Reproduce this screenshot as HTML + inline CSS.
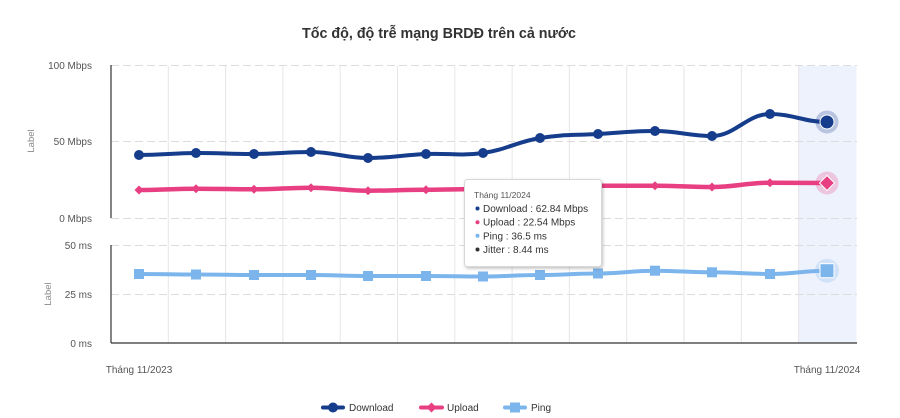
<!DOCTYPE html>
<html>
<head>
<meta charset="utf-8">
<style>
  html,body{margin:0;padding:0;background:#fff;}
  svg{display:block;font-family:"Liberation Sans","DejaVu Sans",sans-serif;}
</style>
</head>
<body>
<svg width="900" height="418" viewBox="0 0 900 418" xmlns="http://www.w3.org/2000/svg">
  <defs>
    <filter id="sh" x="-10%" y="-10%" width="130%" height="130%">
      <feDropShadow dx="1" dy="1.5" stdDeviation="1.5" flood-color="#000" flood-opacity="0.25"/>
    </filter>
  </defs>
  <rect width="900" height="418" fill="#fff"/>

  <!-- Title -->
  <text x="439" y="38" text-anchor="middle" font-size="15" font-weight="bold" fill="#333" textLength="274" lengthAdjust="spacingAndGlyphs">Tốc độ, độ trễ mạng BRDĐ trên cả nước</text>

  <!-- highlight band -->
  <rect x="798.5" y="66" width="58" height="277" fill="#eef2fd"/>

  <!-- vertical grid -->
  <g stroke="#e6e6e6" stroke-width="1">
    <line x1="168.3" y1="66" x2="168.3" y2="343"/>
    <line x1="225.6" y1="66" x2="225.6" y2="343"/>
    <line x1="282.9" y1="66" x2="282.9" y2="343"/>
    <line x1="340.2" y1="66" x2="340.2" y2="343"/>
    <line x1="397.5" y1="66" x2="397.5" y2="343"/>
    <line x1="454.8" y1="66" x2="454.8" y2="343"/>
    <line x1="512.1" y1="66" x2="512.1" y2="343"/>
    <line x1="569.4" y1="66" x2="569.4" y2="343"/>
    <line x1="626.7" y1="66" x2="626.7" y2="343"/>
    <line x1="684" y1="66" x2="684" y2="343"/>
    <line x1="741.3" y1="66" x2="741.3" y2="343"/>
    <line x1="798.6" y1="66" x2="798.6" y2="343"/>
  </g>

  <!-- horizontal dashed grid -->
  <g stroke="#dcdcdc" stroke-width="1" stroke-dasharray="8 4">
    <line x1="111" y1="65.5" x2="857" y2="65.5"/>
    <line x1="111" y1="141.5" x2="857" y2="141.5"/>
    <line x1="111" y1="218.5" x2="857" y2="218.5"/>
    <line x1="111" y1="245.5" x2="857" y2="245.5"/>
    <line x1="111" y1="294.5" x2="857" y2="294.5"/>
  </g>

  <!-- axes -->
  <g stroke="#333" stroke-width="1.2">
    <line x1="111" y1="65" x2="111" y2="218"/>
    <line x1="111" y1="245" x2="111" y2="343"/>
    <line x1="111" y1="343" x2="857" y2="343"/>
  </g>

  <!-- y tick labels -->
  <g font-size="10" fill="#555" text-anchor="end">
    <text x="92" y="69">100 Mbps</text>
    <text x="92" y="145">50 Mbps</text>
    <text x="92" y="222">0 Mbps</text>
    <text x="92" y="249">50 ms</text>
    <text x="92" y="298">25 ms</text>
    <text x="92" y="347">0 ms</text>
  </g>
  <g font-size="9.5" fill="#888" text-anchor="middle">
    <text transform="translate(34,141) rotate(-90)">Label</text>
    <text transform="translate(51,294) rotate(-90)">Label</text>
  </g>

  <!-- x labels -->
  <g font-size="10" fill="#555" text-anchor="middle">
    <text x="139" y="373">Tháng 11/2023</text>
    <text x="827" y="373">Tháng 11/2024</text>
  </g>

  <!-- Download -->
  <path d="M139,155 C162,155 173,153.2 196,153 C219,152.8 231,154.2 254,154 C277,153.8 288,152 311,152 C334,152 345,158 368,158 C391,158 403,155 426,154 C449,153 460,156.2 483,153 C506,149.8 517,141.8 540,138 C563,134.2 575,135.4 598,134 C621,132.6 632,131 655,131 C678,131 689,136 712,136 C735,136 747,114 770,114 C793,114 804,122 827,122" fill="none" stroke="#163d8c" stroke-width="4" stroke-linejoin="round" stroke-linecap="round"/>
  <g fill="#163d8c">
    <circle cx="139" cy="155" r="5"/>
    <circle cx="196" cy="153" r="5"/>
    <circle cx="254" cy="154" r="5"/>
    <circle cx="311" cy="152" r="5"/>
    <circle cx="368" cy="158" r="5"/>
    <circle cx="426" cy="154" r="5"/>
    <circle cx="483" cy="153" r="5"/>
    <circle cx="540" cy="138" r="5"/>
    <circle cx="598" cy="134" r="5"/>
    <circle cx="655" cy="131" r="5"/>
    <circle cx="712" cy="136" r="5"/>
    <circle cx="770" cy="114" r="5"/>
  </g>
  <circle cx="827" cy="122" r="11.5" fill="#163d8c" fill-opacity="0.25"/>
  <circle cx="827" cy="122" r="7" fill="#163d8c" stroke="#fff" stroke-width="1"/>

  <!-- Upload -->
  <path d="M139,190 C162,190 173,188.7 196,188.7 C219,188.7 231,189.3 254,189.3 C277,189.3 288,187.7 311,187.7 C334,187.7 345,190.7 368,190.7 C391,190.7 403,189.7 426,189.7 C449,189.7 460,189 483,189 C506,189 517,187 540,187 C563,187 575,185.7 598,185.7 C621,185.7 632,185.7 655,185.7 C678,185.7 689,187 712,187 C735,187 747,182.7 770,182.7 C793,182.7 804,183 827,183" fill="none" stroke="#e83e82" stroke-width="4.5" stroke-linejoin="round" stroke-linecap="round"/>
  <g fill="#e83e82">
    <polygon points="139,185.5 143.5,190 139,194.5 134.5,190"/>
    <polygon points="196,184.2 200.5,188.7 196,193.2 191.5,188.7"/>
    <polygon points="254,184.8 258.5,189.3 254,193.8 249.5,189.3"/>
    <polygon points="311,183.2 315.5,187.7 311,192.2 306.5,187.7"/>
    <polygon points="368,186.2 372.5,190.7 368,195.2 363.5,190.7"/>
    <polygon points="426,185.2 430.5,189.7 426,194.2 421.5,189.7"/>
    <polygon points="483,184.5 487.5,189 483,193.5 478.5,189"/>
    <polygon points="540,182.5 544.5,187 540,191.5 535.5,187"/>
    <polygon points="598,181.2 602.5,185.7 598,190.2 593.5,185.7"/>
    <polygon points="655,181.2 659.5,185.7 655,190.2 650.5,185.7"/>
    <polygon points="712,182.5 716.5,187 712,191.5 707.5,187"/>
    <polygon points="770,178.2 774.5,182.7 770,187.2 765.5,182.7"/>
  </g>
  <circle cx="827" cy="183" r="11.5" fill="#e83e82" fill-opacity="0.25"/>
  <polygon points="827,175.5 834.5,183 827,190.5 819.5,183" fill="#e83e82" stroke="#fff" stroke-width="1"/>

  <!-- Ping -->
  <path d="M139,274 C162,274 173,274.5 196,274.5 C219,274.5 231,275 254,275 C277,275 288,275 311,275 C334,275 345,276 368,276 C391,276 403,276 426,276 C449,276 460,276.5 483,276.5 C506,276.5 517,275 540,275 C563,275 575,273.5 598,273.5 C621,273.5 632,270.7 655,270.7 C678,270.7 689,272.3 712,272.3 C735,272.3 747,274 770,274 C793,274 804,270.7 827,270.7" fill="none" stroke="#7cb5ec" stroke-width="4" stroke-linejoin="round" stroke-linecap="round"/>
  <g fill="#7cb5ec">
    <rect x="134" y="269" width="10" height="10"/>
    <rect x="191" y="269.5" width="10" height="10"/>
    <rect x="249" y="270" width="10" height="10"/>
    <rect x="306" y="270" width="10" height="10"/>
    <rect x="363" y="271" width="10" height="10"/>
    <rect x="421" y="271" width="10" height="10"/>
    <rect x="478" y="271.5" width="10" height="10"/>
    <rect x="535" y="270" width="10" height="10"/>
    <rect x="593" y="268.5" width="10" height="10"/>
    <rect x="650" y="265.7" width="10" height="10"/>
    <rect x="707" y="267.3" width="10" height="10"/>
    <rect x="765" y="269" width="10" height="10"/>
  </g>
  <circle cx="827" cy="270.7" r="12" fill="#7cb5ec" fill-opacity="0.25"/>
  <rect x="820" y="263.7" width="14" height="14" fill="#7cb5ec" stroke="#fff" stroke-width="1"/>

  <!-- Tooltip -->
  <rect x="464.5" y="179.5" width="137" height="87" rx="3" ry="3" fill="#fff" stroke="#d8d8d8" stroke-width="1" filter="url(#sh)"/>
  <text x="474" y="198" font-size="8.5" fill="#555">Tháng 11/2024</text>
  <g font-size="10" fill="#333">
    <circle cx="477.5" cy="208.5" r="2" fill="#163d8c"/>
    <text x="483" y="212">Download : 62.84 Mbps</text>
    <circle cx="477.5" cy="222.2" r="2" fill="#e83e82"/>
    <text x="483" y="225.7">Upload : 22.54 Mbps</text>
    <circle cx="477.5" cy="235.8" r="2" fill="#7cb5ec"/>
    <text x="483" y="239.3">Ping : 36.5 ms</text>
    <circle cx="477.5" cy="249.5" r="2" fill="#333"/>
    <text x="483" y="253">Jitter : 8.44 ms</text>
  </g>

  <!-- Legend -->
  <g>
    <line x1="323" y1="407.5" x2="343" y2="407.5" stroke="#163d8c" stroke-width="4" stroke-linecap="round"/>
    <circle cx="333" cy="407.5" r="5" fill="#163d8c"/>
    <text x="349" y="411" font-size="10" fill="#333">Download</text>

    <line x1="421" y1="407.5" x2="442" y2="407.5" stroke="#e83e82" stroke-width="4" stroke-linecap="round"/>
    <polygon points="431.5,402.5 436.5,407.5 431.5,412.5 426.5,407.5" fill="#e83e82"/>
    <text x="447" y="411" font-size="10" fill="#333">Upload</text>

    <line x1="505" y1="407.5" x2="525" y2="407.5" stroke="#7cb5ec" stroke-width="4" stroke-linecap="round"/>
    <rect x="510" y="402.5" width="10" height="10" fill="#7cb5ec"/>
    <text x="531" y="411" font-size="10" fill="#333">Ping</text>
  </g>
</svg>
</body>
</html>
